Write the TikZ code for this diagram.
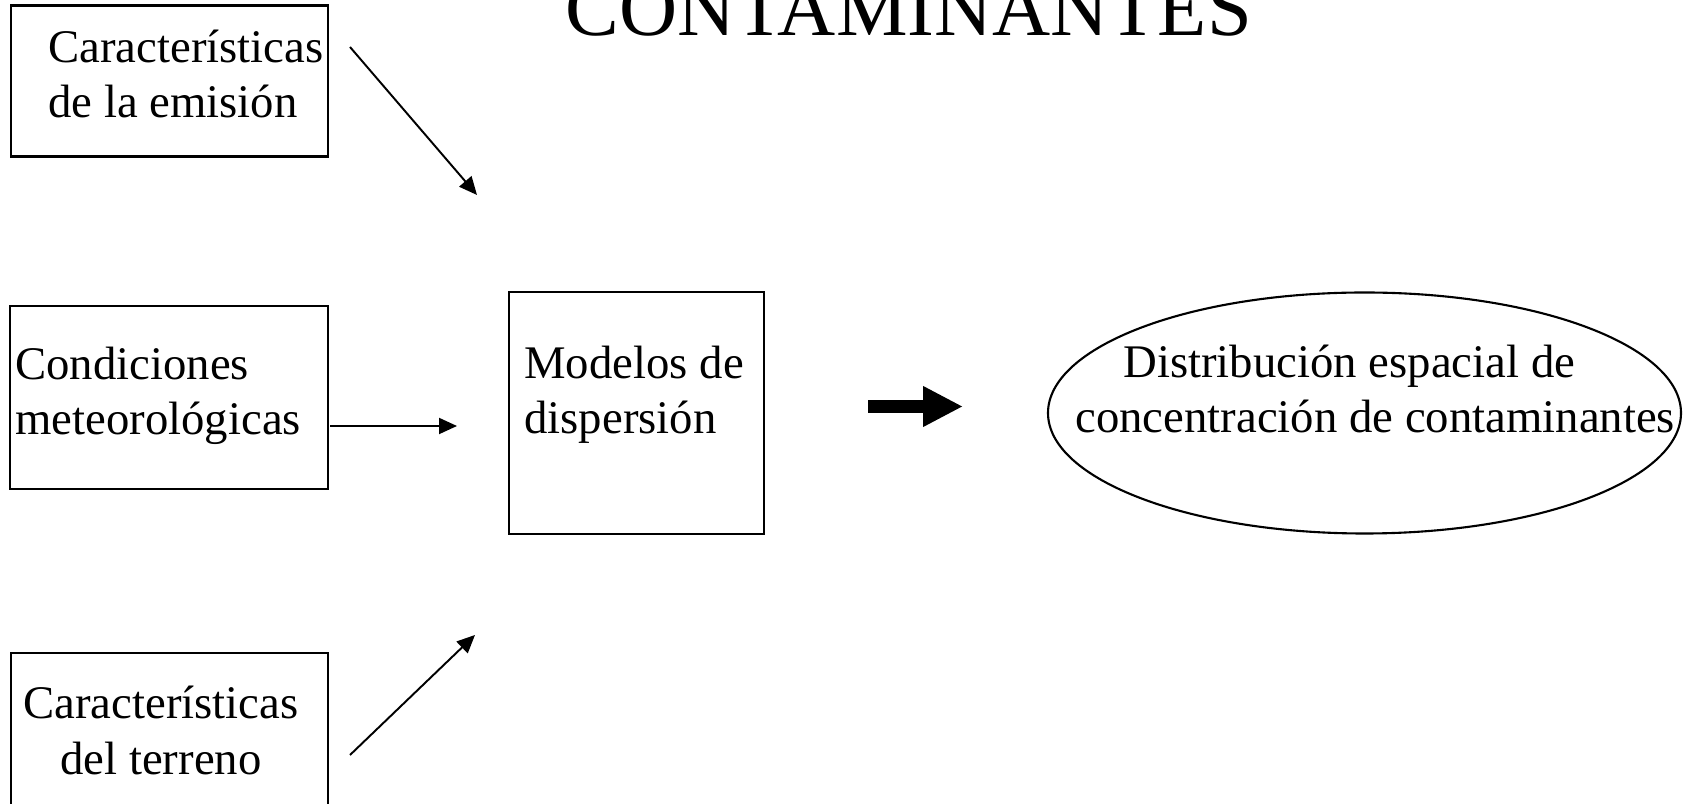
\documentclass[tikz,border=0pt]{standalone}
\usepackage{fontspec}
\setmainfont{Liberation Serif}
\usetikzlibrary{shapes.geometric,arrows.meta}

\tikzset{
  caja/.style={draw, line width=1.2pt, rectangle, inner sep=0pt},
  ovalo/.style={draw, line width=1.2pt, ellipse, inner sep=0pt},
  texto/.style={inner sep=0pt, font=\fontsize{26.6}{32}\selectfont},
  flecha/.style={line width=1.1pt, -{Triangle[length=0.36cm, width=0.32cm]}},
  flechagorda/.style={line width=0.26cm, -{Triangle[length=0.8cm, width=0.76cm]}}
}

\begin{document}
\begin{tikzpicture}

\useasboundingbox (0,0) rectangle (33.74,16.08);

% Titulo (cortado arriba)
\node[inner sep=0pt, anchor=base west, font=\fontsize{45.8}{50}\selectfont] (titulo) at (11.30,15.36) {CONTAMINANTES};

% Caracteristicas de la emision
\node[caja, minimum width=6.34cm, minimum height=3.02cm] (emision) at (3.39,14.46) {};
\node[texto, anchor=base west] (emision1) at (0.96,14.82) {Características};
\node[texto, anchor=base west] (emision2) at (0.96,13.72) {de la emisión};

% Condiciones meteorologicas
\node[caja, minimum width=6.36cm, minimum height=3.66cm] (meteo) at (3.38,8.13) {};
\node[texto, anchor=base west] (meteo1) at (0.30,8.48) {Condiciones};
\node[texto, anchor=base west] (meteo2) at (0.30,7.38) {meteorológicas};

% Caracteristicas del terreno
\node[caja, minimum width=6.34cm, minimum height=3.54cm] (terreno) at (3.39,1.25) {};
\node[texto, anchor=base] (terreno1) at (3.22,1.70) {Características};
\node[texto, anchor=base] (terreno2) at (3.22,0.58) {del terreno};

% Modelos de dispersion
\node[caja, minimum width=5.10cm, minimum height=4.84cm] (modelos) at (12.73,7.82) {};
\node[texto, anchor=base west] (modelos1) at (10.48,8.50) {Modelos de};
\node[texto, anchor=base west] (modelos2) at (10.48,7.40) {dispersión};

% Distribucion espacial
\node[ovalo, minimum width=12.66cm, minimum height=4.82cm] (distrib) at (27.29,7.82) {};
\node[texto, anchor=base west] (distrib1) at (22.46,8.52) {Distribución espacial de};
\node[texto, anchor=base west] (distrib2) at (21.50,7.42) {concentración de contaminantes};

% Flechas
\coordinate (a1i) at (7.00,15.14);
\coordinate (a1f) at (9.54,12.18);
\coordinate (a2i) at (6.60,7.56);
\coordinate (a2f) at (9.14,7.56);
\coordinate (a3i) at (7.00,0.98);
\coordinate (a3f) at (9.50,3.38);
\coordinate (a4i) at (17.36,7.95);
\coordinate (a4f) at (19.26,7.95);

\draw[flecha] (a1i) -- (a1f);
\draw[flecha] (a2i) -- (a2f);
\draw[flecha] (a3i) -- (a3f);
\draw[flechagorda] (a4i) -- (a4f);

\end{tikzpicture}
\end{document}
